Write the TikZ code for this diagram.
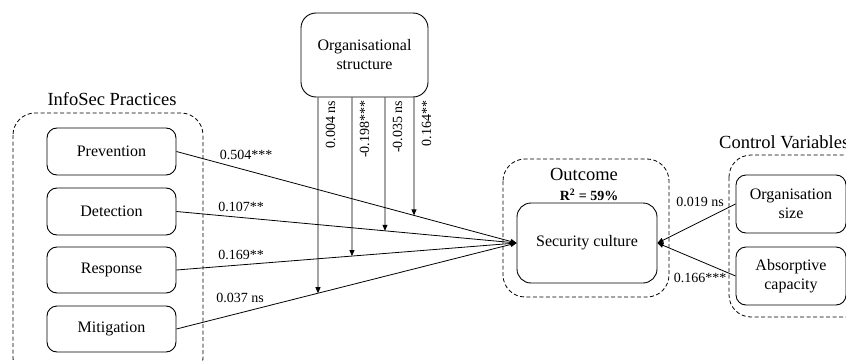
\documentclass[tikz,border=0pt]{standalone}
\usepackage{fontspec}
\setmainfont{Liberation Serif}
\usetikzlibrary{arrows.meta,calc}
\begin{document}
\begin{tikzpicture}[x=1pt,y=-1pt,
  box/.style={draw, rounded corners=10pt, line width=0.9pt, align=center, font=\fontsize{16}{19}\selectfont, inner sep=0pt},
  grp/.style={draw, dash pattern=on 4pt off 2.5pt, rounded corners=22pt, line width=0.8pt},
  ttl/.style={font=\fontsize{18.5}{22}\selectfont, inner sep=0pt},
  lbl/.style={font=\fontsize{14}{16}\selectfont, inner sep=0pt},
  arr/.style={-{Triangle[length=6pt,width=5pt]}, line width=0.8pt},
]
\useasboundingbox (0,0) rectangle (846,361);
\clip (0,0) rectangle (846,361);

% groups
\draw[grp] (13,113) rectangle (203,380);
\draw[grp] (503,159) rectangle (669,297);
\draw[grp] (729,155) rectangle (890,317);

% titles
\node[ttl] (t1) at (112,99) {InfoSec Practices};
\node[ttl] (t2) at (584,174) {Outcome};
\node[lbl, font=\fontsize{14}{16}\selectfont\bfseries] (t3) at (589,195) {R\textsuperscript{2} = 59\%};
\node[ttl, anchor=west] (t4) at (719,142) {Control Variables};

% boxes
\node[box, minimum width=129pt, minimum height=47pt] (prev) at (111.5,151.5) {Prevention};
\node[box, minimum width=129pt, minimum height=47pt] (det) at (111.5,211.5) {Detection};
\node[box, minimum width=129pt, minimum height=46pt] (resp) at (111.5,270) {Response};
\node[box, minimum width=129pt, minimum height=46pt] (mit) at (111.5,329) {Mitigation};
\node[box, rounded corners=15pt, minimum width=127pt, minimum height=84pt] (org) at (364.5,55) {Organisational\\structure};
\node[box, rounded corners=14pt, minimum width=140pt, minimum height=80pt] (sc) at (587,243) {Security culture};
\node[box, minimum width=110pt, minimum height=58pt] (osize) at (791,204) {Organisation\\size};
\node[box, minimum width=110pt, minimum height=58pt] (absc) at (791,276) {Absorptive\\capacity};

% main paths
\draw[arr] (prev.east) -- (sc.west);
\draw[arr] (det.east) -- (sc.west);
\draw[arr] (resp.east) -- (sc.west);
\draw[arr] (mit.east) -- (sc.west);
\draw[arr] (osize.west) -- (sc.east);
\draw[arr] (absc.west) -- (sc.east);

% moderation paths
\path (org.south) ++(-46.5,0) coordinate (v1) ++(0,300) coordinate (v1b);
\path (org.south) ++(-12.5,0) coordinate (v2) ++(0,300) coordinate (v2b);
\path (org.south) ++(20.5,0) coordinate (v3) ++(0,300) coordinate (v3b);
\path (org.south) ++(49.5,0) coordinate (v4) ++(0,300) coordinate (v4b);
\coordinate (scw) at (sc.west);
\coordinate (mite) at (mit.east);
\coordinate (respe) at (resp.east);
\coordinate (dete) at (det.east);
\coordinate (preve) at (prev.east);
\draw[arr] (v1) -- (intersection of v1--v1b and mite--scw);
\draw[arr] (v2) -- (intersection of v2--v2b and respe--scw);
\draw[arr] (v3) -- (intersection of v3--v3b and dete--scw);
\draw[arr] (v4) -- (intersection of v4--v4b and preve--scw);

% rotated labels
\node[lbl, rotate=90, anchor=east] (l1) at ($(v1)+(12.5,3)$) {0.004 ns};
\node[lbl, rotate=90, anchor=east] (l2) at ($(v2)+(12.5,3)$) {-0.198***};
\node[lbl, rotate=90, anchor=east] (l3) at ($(v3)+(12.5,3)$) {-0.035 ns};
\node[lbl, rotate=90, anchor=east] (l4) at ($(v4)+(12.5,3)$) {0.164**};

% path labels
\node[lbl] (p1) at (246,155) {0.504***};
\node[lbl] (p2) at (241,207) {0.107**};
\node[lbl] (p3) at (241,255) {0.169**};
\node[lbl] (p4) at (240,298) {0.037 ns};
\node[lbl] (c1) at (700,202) {0.019 ns};
\node[lbl] (c2) at (700,278) {0.166***};
\end{tikzpicture}
\end{document}
